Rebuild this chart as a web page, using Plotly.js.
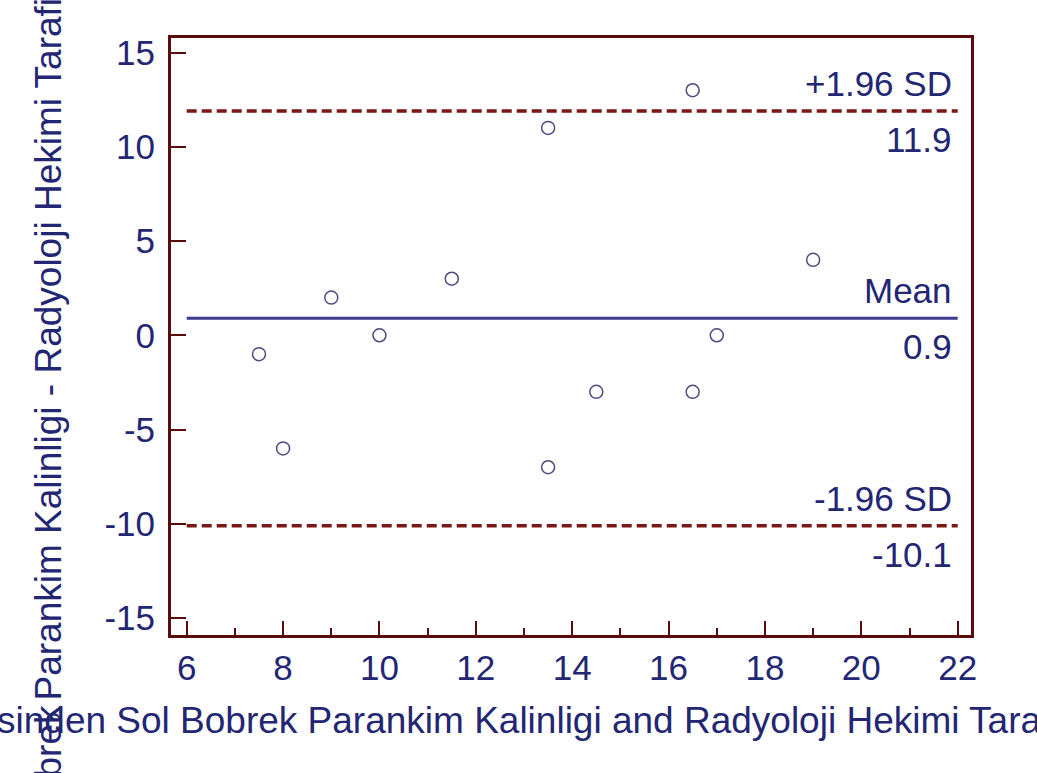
<!DOCTYPE html>
<html>
<head>
<meta charset="utf-8">
<script src="https://cdn.plot.ly/plotly-3.0.1.min.js"></script>
<style>
html,body{margin:0;padding:0;overflow:hidden;background:#fff;}
#chart{width:1037px;height:773px;}
</style>
</head>
<body>
<div id="chart"></div>
<script>
// ---- data ----
const meanValues = [7.5, 8, 9, 10, 11.5, 13.5, 13.5, 14.5, 16.5, 16.5, 17, 19];
const diffValues = [-1, -6, 2, 0, 3, 11, -7, -3, 13, -3, 0, 4];
const meanDiff = 0.9;
const upperLimit = 11.9;
const lowerLimit = -10.1;
const lineSpan = [6, 22];
const upperLabel = "+1.96 SD";
const meanLabel = "Mean";
const lowerLabel = "-1.96 SD";
const xTickVals = [6, 8, 10, 12, 14, 16, 18, 20, 22];
const xTickText = ["6", "8", "10", "12", "14", "16", "18", "20", "22"];
const yTickVals = [-15, -10, -5, 0, 5, 10, 15];
const yTickText = ["-15", "-10", "-5", "0", "5", "10", "15"];
const xTitleText = "sinden Sol Bobrek Parankim Kalinligi and Radyoloji Hekimi Tarafindan";
const yTitleMain = "Parankim Kalinligi - Radyoloji Hekimi Tarafindan";
const yTitleLow = "Sol Bobrek";

// ---- style ----
const FONT = "Liberation Sans, Arial, sans-serif";
const NAVY = "#232673";
const FRAME = "#5a0c0c";
const DASH = "#7a1717";
const MEANC = "#3a3d8e";
const FS = 35;
const TFS = 37;

const W = 1037, H = 773;
const M = {l: 171, r: 66, t: 38, b: 138};
const PW = W - M.l - M.r, PH = H - M.t - M.b;
const px2x = p => (p - M.l) / PW;
const px2y = p => (H - M.b - p) / PH;

const traces = [
  {x: lineSpan, y: [upperLimit, upperLimit], mode: "lines", line: {color: DASH, width: 3.5, dash: "10px,5px"}, hoverinfo: "skip"},
  {x: lineSpan, y: [meanDiff, meanDiff], mode: "lines", line: {color: MEANC, width: 3}, hoverinfo: "skip"},
  {x: lineSpan, y: [lowerLimit, lowerLimit], mode: "lines", line: {color: DASH, width: 3.5, dash: "10px,5px"}, hoverinfo: "skip"},
  {x: meanValues, y: diffValues, mode: "markers", marker: {symbol: "circle-open", size: 13, color: "#4a4c7e", line: {width: 1.5}}}
];

function limitLabels(y, top, bottom) {
  return [
    {x: lineSpan[1], y: y, xref: "x", yref: "y", text: top, showarrow: false, xanchor: "right", yanchor: "bottom", xshift: -4, yshift: 6, font: {family: FONT, size: FS, color: NAVY}},
    {x: lineSpan[1], y: y, xref: "x", yref: "y", text: bottom, showarrow: false, xanchor: "right", yanchor: "top", xshift: -4, yshift: -7, font: {family: FONT, size: FS, color: NAVY}}
  ];
}

const annotations = [].concat(
  limitLabels(upperLimit, upperLabel, String(upperLimit)),
  limitLabels(meanDiff, meanLabel, String(meanDiff)),
  limitLabels(lowerLimit, lowerLabel, String(lowerLimit)),
  [
    {x: px2x(-5), y: px2y(720), xref: "paper", yref: "paper", text: xTitleText, showarrow: false, xanchor: "left", yanchor: "middle", font: {family: FONT, size: TFS, color: NAVY}},
    {x: px2x(48), y: px2y(703), xref: "paper", yref: "paper", text: yTitleMain, showarrow: false, textangle: -90, xanchor: "center", yanchor: "bottom", font: {family: FONT, size: TFS, color: NAVY}},
    {x: px2x(48), y: px2y(704), xref: "paper", yref: "paper", text: yTitleLow, showarrow: false, textangle: -90, xanchor: "center", yanchor: "top", font: {family: FONT, size: TFS, color: NAVY}}
  ]
);

const axisCommon = {
  showline: true, mirror: true, linecolor: FRAME, linewidth: 3,
  ticks: "inside", tickcolor: FRAME, tickwidth: 2,
  showgrid: false, zeroline: false,
  tickmode: "array",
  tickfont: {family: FONT, size: FS, color: NAVY}
};

const layout = {
  width: W, height: H,
  margin: M,
  paper_bgcolor: "#ffffff", plot_bgcolor: "#ffffff",
  showlegend: false,
  xaxis: Object.assign({}, axisCommon, {
    range: [5.674, 22.276], tickvals: xTickVals, ticktext: xTickText, ticklen: 14,
    minor: {dtick: 1, tick0: 0, ticks: "inside", ticklen: 7, tickwidth: 2, tickcolor: FRAME, showgrid: false}
  }),
  yaxis: Object.assign({}, axisCommon, {
    range: [-15.9, 15.77], tickvals: yTickVals, ticktext: yTickText, ticklen: 15,
    ticklabelstandoff: 6
  }),
  annotations: annotations
};

Plotly.newPlot("chart", traces, layout, {staticPlot: true, displayModeBar: false});
</script>
</body>
</html>
